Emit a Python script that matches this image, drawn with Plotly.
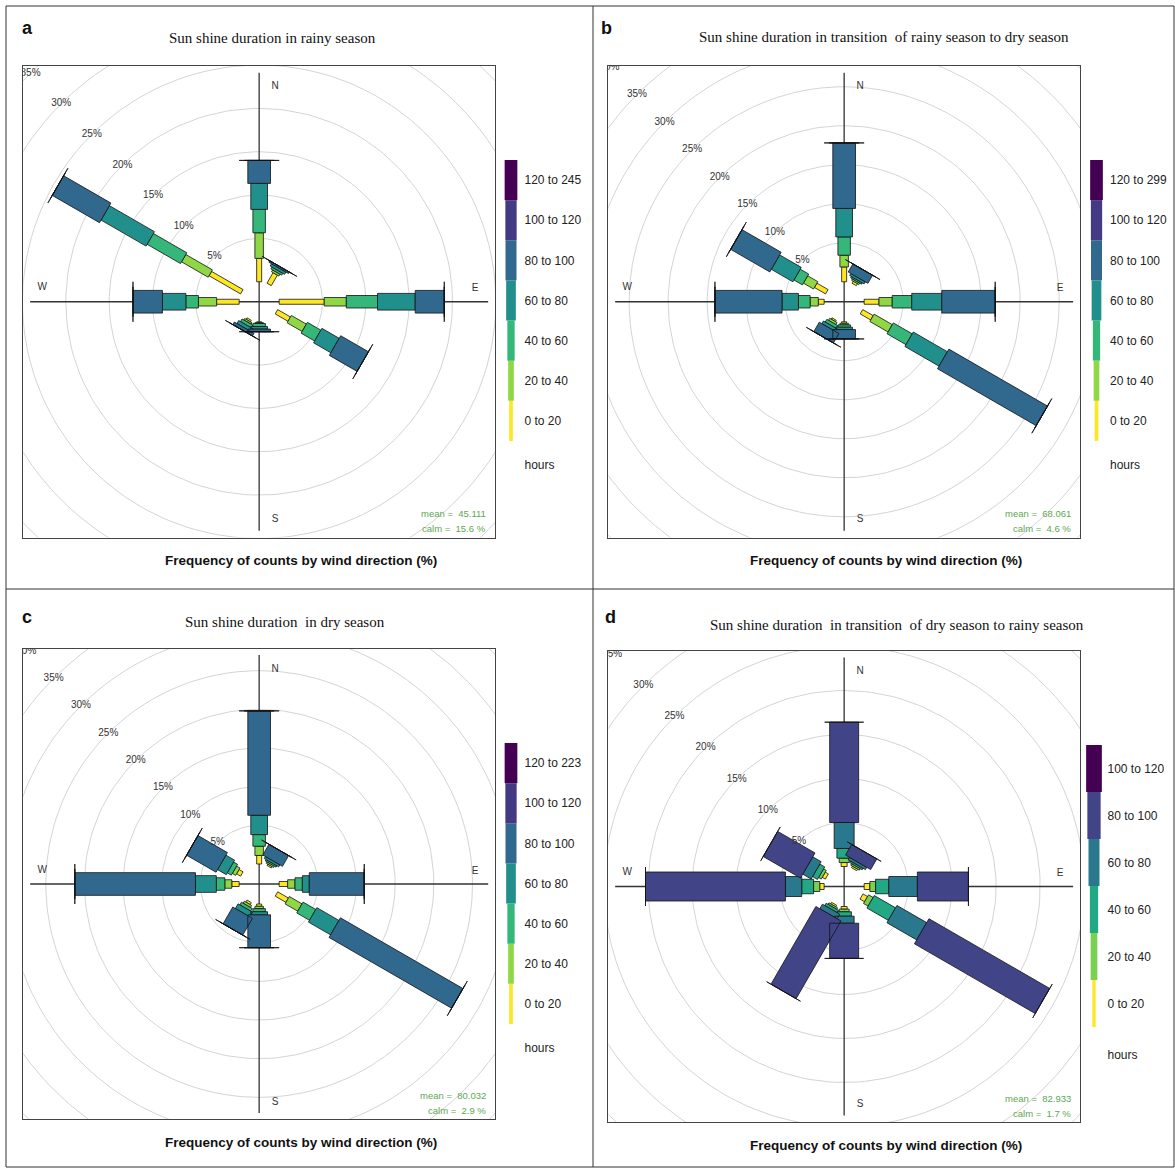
import math
import plotly.graph_objects as go

W, H = 1175, 1169

# ---------------- data ----------------
DIRECTIONS = [0, 30, 90, 120, 180, 210, 270, 300]

# (a) rainy season: frequency (%) of counts by wind direction, per sunshine-hours class
rainy_0_20 = [2.70, 1.40, 5.20, 1.70, 0.10, 0.20, 2.60, 4.20]
rainy_20_40 = [2.95, 0.25, 2.55, 2.00, 0.10, 0.20, 2.10, 3.55]
rainy_40_60 = [2.70, 0.25, 3.60, 1.80, 0.35, 0.35, 1.45, 4.45]
rainy_60_80 = [3.00, 0.30, 4.35, 2.30, 0.30, 0.40, 2.70, 6.00]
rainy_80_100 = [2.65, 0.20, 3.35, 3.70, 0.30, 0.35, 3.40, 6.30]
rainy_100_120 = [0, 0, 0, 0, 0, 0, 0, 0]
rainy_120_245 = [0, 0, 0, 0, 0, 0, 0, 0]

# (b) transition rainy -> dry season
r2d_0_20 = [1.90, 0.30, 1.90, 1.55, 0.20, 0.20, 0.75, 1.65]
r2d_20_40 = [1.50, 0.20, 1.70, 2.70, 0.20, 0.30, 1.05, 1.50]
r2d_40_60 = [2.35, 0.20, 2.50, 2.80, 0.30, 0.40, 1.50, 1.25]
r2d_60_80 = [3.65, 0.30, 3.85, 5.05, 0.30, 0.40, 2.10, 3.20]
r2d_80_100 = [8.40, 1.20, 6.85, 14.60, 1.20, 1.40, 8.60, 5.80]
r2d_100_120 = [0, 0, 0, 0, 0, 0, 0, 0]
r2d_120_299 = [0, 0, 0, 0, 0, 0, 0, 0]

# (c) dry season
dry_0_20 = [1.10, 0.20, 1.10, 1.60, 0.30, 0.30, 0.95, 0.60]
dry_20_40 = [1.20, 0.20, 0.95, 1.90, 0.30, 0.30, 0.90, 0.50]
dry_40_60 = [1.50, 0.20, 0.95, 1.90, 0.40, 0.40, 1.10, 0.60]
dry_60_80 = [2.50, 0.30, 0.90, 3.30, 0.40, 0.70, 2.70, 1.30]
dry_80_100 = [13.50, 1.60, 7.10, 18.30, 4.25, 2.50, 15.60, 4.40]
dry_100_120 = [0, 0, 0, 0, 0, 0, 0, 0]
dry_120_223 = [0, 0, 0, 0, 0, 0, 0, 0]

# (d) transition dry -> rainy season
d2r_0_20 = [0.45, 0.20, 0.65, 0.60, 0.30, 0.20, 0.50, 0.40]
d2r_20_40 = [0.50, 0.20, 0.65, 0.60, 0.30, 0.20, 0.70, 0.35]
d2r_40_60 = [1.10, 0.20, 1.50, 2.80, 0.50, 0.30, 1.35, 0.65]
d2r_60_80 = [2.95, 0.30, 3.25, 3.90, 0.80, 0.60, 1.85, 1.10]
d2r_80_100 = [11.40, 1.40, 5.80, 15.85, 4.00, 10.20, 15.90, 4.90]
d2r_100_120 = [0, 0, 0, 0, 0, 0, 0, 0]

LABELS_A = ["0 to 20", "20 to 40", "40 to 60", "60 to 80", "80 to 100", "100 to 120", "120 to 245"]
LABELS_B = ["0 to 20", "20 to 40", "40 to 60", "60 to 80", "80 to 100", "100 to 120", "120 to 299"]
LABELS_C = ["0 to 20", "20 to 40", "40 to 60", "60 to 80", "80 to 100", "100 to 120", "120 to 223"]
LABELS_D = ["0 to 20", "20 to 40", "40 to 60", "60 to 80", "80 to 100", "100 to 120"]

RING_VALUES = [5, 10, 15, 20, 25, 30, 35, 40]
COMPASS = ["N", "E", "S", "W"]

TITLES = ["Sun shine duration in rainy season",
          "Sun shine duration in transition  of rainy season to dry season",
          "Sun shine duration  in dry season",
          "Sun shine duration  in transition  of dry season to rainy season"]
LETTERS = ["a", "b", "c", "d"]
MEAN = ["45.111", "68.061", "80.032", "82.933"]
CALM = ["15.6", "4.6", "2.9", "1.7"]

# ---------------- styles ----------------
VIRIDIS7 = ["#FDE725", "#8FD744", "#35B779", "#21908C", "#31688E", "#443A83", "#440154"]
VIRIDIS6 = ["#FDE725", "#7AD151", "#22A884", "#2A788E", "#414487", "#440154"]
BARW7 = [5, 8.5, 12.5, 16.7, 22.7, 30, 40]      # px
BARW6 = [6, 10, 14.5, 20, 29, 39]
LEGW7 = [3.7, 5.7, 7.3, 9.7, 11, 11.3, 12.7]
LEGW6 = [3.3, 6.7, 8.3, 11, 13.3, 15.7]
SANS = "Liberation Sans, Arial, sans-serif"
SERIF = "Liberation Serif, Times New Roman, serif"

panels = [
    dict(levels=[rainy_0_20, rainy_20_40, rainy_40_60, rainy_60_80, rainy_80_100, rainy_100_120, rainy_120_245],
         labels=LABELS_A, colors=VIRIDIS7, bw=BARW7, lw=LEGW7,
         box=(23.3, 66, 495, 537.5), scale=26 / 3,
         leg=(501.5, 160, 520.5, 481), title_xy=(272, 38), letter_xy=(27, 28), foot_xy=(301, 560)),
    dict(levels=[r2d_0_20, r2d_20_40, r2d_40_60, r2d_60_80, r2d_80_100, r2d_100_120, r2d_120_299],
         labels=LABELS_B, colors=VIRIDIS7, bw=BARW7, lw=LEGW7,
         box=(608.3, 66, 1080, 537.5), scale=23.4 / 3,
         leg=(1087, 160, 1106, 481), title_xy=(884, 37), letter_xy=(607, 28), foot_xy=(885.5, 560)),
    dict(levels=[dry_0_20, dry_20_40, dry_40_60, dry_60_80, dry_80_100, dry_100_120, dry_120_223],
         labels=LABELS_C, colors=VIRIDIS7, bw=BARW7, lw=LEGW7,
         box=(23.3, 649, 495, 1119), scale=23.2 / 3,
         leg=(501.5, 743, 520.5, 1064), title_xy=(284.5, 622), letter_xy=(27, 617), foot_xy=(301, 1142)),
    dict(levels=[d2r_0_20, d2r_20_40, d2r_40_60, d2r_60_80, d2r_80_100, d2r_100_120],
         labels=LABELS_D, colors=VIRIDIS6, bw=BARW6, lw=LEGW6,
         box=(608.3, 651, 1080, 1122), scale=26.4 / 3,
         leg=(1084.5, 745, 1103.5, 1074), title_xy=(897, 625), letter_xy=(610, 617), foot_xy=(885.5, 1145)),
]

CALM_PX = 20     # radius of the calm circle, px
CROSS_PX = 229   # half length of the N-S / W-E lines, px


def px_x(px):
    return px / W


def px_y(py):
    return 1 - py / H


fig = go.Figure()
layout = dict(width=W, height=H, margin=dict(l=0, r=0, t=0, b=0),
              paper_bgcolor="white", plot_bgcolor="white", showlegend=False,
              annotations=[], shapes=[])

for i, p in enumerate(panels):
    ax = i + 1
    lax = i + 5
    x0, y0, x1, y1 = p["box"]
    cx, cy = (x0 + x1) / 2, (y0 + y1) / 2
    half = (x1 - x0) / 2
    s = p["scale"]
    off = CALM_PX / s
    xa, ya = f"x{ax}", f"y{ax}"

    # rings
    rx, ry = [], []
    for v in RING_VALUES:
        r = off + v
        for k in range(0, 361, 2):
            t = math.radians(k)
            rx.append(r * math.sin(t))
            ry.append(r * math.cos(t))
        rx.append(None)
        ry.append(None)
    fig.add_trace(go.Scatter(x=rx, y=ry, mode="lines", line=dict(color="#d4d4d4", width=1),
                             xaxis=xa, yaxis=ya, hoverinfo="skip"))
    # cross lines
    L = CROSS_PX / s
    fig.add_trace(go.Scatter(x=[-L, L, None, 0, 0], y=[0, 0, None, -L, L], mode="lines",
                             line=dict(color="#333333", width=1.3), xaxis=xa, yaxis=ya, hoverinfo="skip"))
    # stacked paddles
    cum = [0.0] * len(DIRECTIONS)
    for k, level in enumerate(p["levels"]):
        hw = p["bw"][k] / 2 / s
        bx, by = [], []
        for j, d in enumerate(DIRECTIONS):
            r1 = off + cum[j]
            r2 = off + cum[j] + level[j]
            t = math.radians(d)
            ux, uy = math.sin(t), math.cos(t)
            qx, qy = math.cos(t), -math.sin(t)
            pts = [(r1 * ux + hw * qx, r1 * uy + hw * qy),
                   (r2 * ux + hw * qx, r2 * uy + hw * qy),
                   (r2 * ux - hw * qx, r2 * uy - hw * qy),
                   (r1 * ux - hw * qx, r1 * uy - hw * qy),
                   (r1 * ux + hw * qx, r1 * uy + hw * qy)]
            for (a, b) in pts:
                bx.append(a)
                by.append(b)
            bx.append(None)
            by.append(None)
            cum[j] += level[j]
        fig.add_trace(go.Scatter(x=bx, y=by, mode="lines", fill="toself",
                                 fillcolor=p["colors"][k], line=dict(color="#111111", width=0.8),
                                 xaxis=xa, yaxis=ya, hoverinfo="skip"))
    # ring labels (along NW diagonal), only those whose centre lies inside the frame
    shown = [v for v in RING_VALUES if (CALM_PX + v * s) / math.sqrt(2) < half]
    lx = [-(off + v) / math.sqrt(2) for v in shown]
    ly = [(off + v) / math.sqrt(2) for v in shown]
    fig.add_trace(go.Scatter(x=lx, y=ly, mode="text", text=[f"{v}%" for v in shown],
                             textfont=dict(family=SANS, size=10, color="#333333"),
                             xaxis=xa, yaxis=ya, hoverinfo="skip", cliponaxis=True))
    # compass labels
    cpx = [16 / s, 216 / s, 16 / s, -217 / s]
    cpy = [215 / s, 13 / s, -218 / s, 14 / s]
    fig.add_trace(go.Scatter(x=cpx, y=cpy, mode="text", text=COMPASS,
                             textfont=dict(family=SANS, size=10, color="#333333"),
                             xaxis=xa, yaxis=ya, hoverinfo="skip"))

    layout[f"xaxis{ax}"] = dict(domain=[px_x(x0), px_x(x1)], range=[(x0 - cx) / s, (x1 - cx) / s],
                                anchor=ya, showgrid=False, zeroline=False, showticklabels=False,
                                ticks="", showline=True, mirror=True, linecolor="#444444", linewidth=1,
                                fixedrange=True)
    layout[f"yaxis{ax}"] = dict(domain=[px_y(y1), px_y(y0)], range=[(cy - y1) / s, (cy - y0) / s],
                                anchor=xa, showgrid=False, zeroline=False, showticklabels=False,
                                ticks="", showline=True, mirror=True, linecolor="#444444", linewidth=1,
                                fixedrange=True)

    # legend strip
    n = len(p["labels"])
    lx0, ly0, lx1, ly1 = p["leg"]
    dom_w = lx1 - lx0
    fig.add_trace(go.Bar(x=[0] * n, y=[1] * n, base=list(range(n)),
                         width=[w / dom_w for w in p["lw"]],
                         marker=dict(color=p["colors"][:n], line=dict(width=0)),
                         xaxis=f"x{lax}", yaxis=f"y{lax}", hoverinfo="skip"))
    layout[f"xaxis{lax}"] = dict(domain=[px_x(lx0), px_x(lx1)], range=[-0.5, 0.5], anchor=f"y{lax}",
                                 showgrid=False, zeroline=False, showticklabels=False, showline=False,
                                 ticks="", fixedrange=True)
    hours_pos = -0.6
    layout[f"yaxis{lax}"] = dict(domain=[px_y(ly1), px_y(ly0)], range=[-1, n], anchor=f"x{lax}",
                                 side="right", showgrid=False, zeroline=False, showline=False, ticks="",
                                 tickvals=[hours_pos] + [k + 0.5 for k in range(n)],
                                 ticktext=["hours"] + p["labels"], ticklabelstandoff=3,
                                 tickfont=dict(family=SANS, size=12, color="#222222"), fixedrange=True)

    # texts
    tx, ty = p["title_xy"]
    layout["annotations"].append(dict(text=TITLES[i], x=px_x(tx), y=px_y(ty), xref="paper", yref="paper",
                                      showarrow=False, xanchor="center", yanchor="middle",
                                      font=dict(family=SERIF, size=15, color="#111111")))
    lxx, lyy = p["letter_xy"]
    layout["annotations"].append(dict(text=f"<b>{LETTERS[i]}</b>", x=px_x(lxx), y=px_y(lyy), xref="paper",
                                      yref="paper", showarrow=False, xanchor="center", yanchor="middle",
                                      font=dict(family=SANS, size=18, color="#111111")))
    fx, fy = p["foot_xy"]
    layout["annotations"].append(dict(text="<b>Frequency of counts by wind direction (%)</b>", x=px_x(fx),
                                      y=px_y(fy), xref="paper", yref="paper", showarrow=False,
                                      xanchor="center", yanchor="middle",
                                      font=dict(family=SANS, size=13.5, color="#111111")))
    layout["annotations"].append(dict(text=f"mean =  {MEAN[i]}", x=px_x(x1 - 7), y=px_y(y1 - 24),
                                      xref="paper", yref="paper", showarrow=False, xanchor="right",
                                      yanchor="middle", font=dict(family=SANS, size=9.5, color="#5ea851")))
    layout["annotations"].append(dict(text=f"calm =  {CALM[i]} %", x=px_x(x1 - 7), y=px_y(y1 - 9),
                                      xref="paper", yref="paper", showarrow=False, xanchor="right",
                                      yanchor="middle", font=dict(family=SANS, size=9.5, color="#5ea851")))

# table frame
for (xa0, ya0, xa1, ya1) in [(6, 6, 1174, 6), (6, 6, 6, 1167), (6, 1167, 1174, 1167), (1174, 6, 1174, 1167),
                             (593, 6, 593, 1167), (6, 589, 1174, 589)]:
    layout["shapes"].append(dict(type="line", xref="paper", yref="paper", x0=px_x(xa0), y0=px_y(ya0),
                                 x1=px_x(xa1), y1=px_y(ya1), line=dict(color="#333333", width=1)))

fig.update_layout(**layout)
fig.write_html("out.html", config={"displayModeBar": False},
               post_script="document.body.style.margin='0';document.body.style.overflow='hidden';")
